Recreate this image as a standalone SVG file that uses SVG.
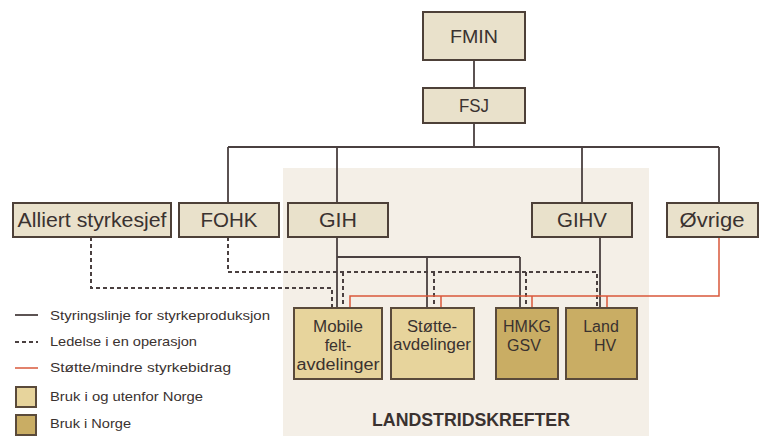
<svg xmlns="http://www.w3.org/2000/svg" width="766" height="436" viewBox="0 0 766 436">
<style>
.box{fill:#e9e1cb;stroke:#4d4038;stroke-width:2}
.lt{fill:#e7d49c;stroke:#5a4a3a;stroke-width:2}
.dk{fill:#c9ad64;stroke:#5a4a3a;stroke-width:2}
.t{font-family:"Liberation Sans",Arial,sans-serif;fill:#3a3230;text-anchor:middle}
.lg{font-family:"Liberation Sans",Arial,sans-serif;fill:#3a3230;font-size:13px}
.s{fill:none;stroke:#4a4040;stroke-width:1.8}
.d{fill:none;stroke:#4a4040;stroke-width:2;stroke-dasharray:4 3}
.r{fill:none;stroke:#d9583b;stroke-width:1.5}
</style>
<rect width="766" height="436" fill="#ffffff"/>
<rect x="283" y="168" width="366" height="268" fill="#f4efe7"/>
<g id="connectors">
<path class="s" d="M474 60V88M474 123V147M228 147H719M228 147V203M337 147V203M582 147V203M719 147V203M337 237V308M337 257H520M427 257V308M520 257V308M600 237V308"/>
<path class="d" d="M228 237V272H597V308M343 272V308M434 272V308M526 272V308M91 237V288H332V308"/>
<path class="r" d="M719 237V296H350V308M441 296V308M532 296V308M607 296V308"/>
</g>
<g id="FMIN"><rect class="box" x="423" y="12" width="102" height="48"/><text class="t" x="474" y="43" font-size="19" textLength="48" lengthAdjust="spacingAndGlyphs">FMIN</text></g>
<g id="FSJ"><rect class="box" x="423" y="88" width="102" height="35"/><text class="t" x="474" y="112" font-size="18" textLength="30" lengthAdjust="spacingAndGlyphs">FSJ</text></g>
<g id="Alliert"><rect class="box" x="13" y="203" width="158" height="34"/><text class="t" x="92" y="227" font-size="20" textLength="149" lengthAdjust="spacingAndGlyphs">Alliert styrkesjef</text></g>
<g id="FOHK"><rect class="box" x="179" y="203" width="100" height="34"/><text class="t" x="229" y="227" font-size="20" textLength="57" lengthAdjust="spacingAndGlyphs">FOHK</text></g>
<g id="GIH"><rect class="box" x="288" y="203" width="100" height="34"/><text class="t" x="338" y="227" font-size="20" textLength="38" lengthAdjust="spacingAndGlyphs">GIH</text></g>
<g id="GIHV"><rect class="box" x="532" y="203" width="100" height="34"/><text class="t" x="582" y="227" font-size="20" textLength="50" lengthAdjust="spacingAndGlyphs">GIHV</text></g>
<g id="Ovrige"><rect class="box" x="667" y="203" width="91" height="34"/><text class="t" x="712" y="227" font-size="20" textLength="65" lengthAdjust="spacingAndGlyphs">Øvrige</text></g>
<g id="Mobile"><rect class="lt" x="294" y="308" width="88" height="71"/><text class="t" font-size="16"><tspan x="338" y="332" textLength="50" lengthAdjust="spacingAndGlyphs">Mobile</tspan><tspan x="338" y="351">felt-</tspan><tspan x="338" y="370" textLength="83" lengthAdjust="spacingAndGlyphs">avdelinger</tspan></text></g>
<g id="Stotte"><rect class="lt" x="391" y="308" width="83" height="71"/><text class="t" font-size="16"><tspan x="432" y="332" textLength="50" lengthAdjust="spacingAndGlyphs">Støtte-</tspan><tspan x="432" y="350" textLength="78" lengthAdjust="spacingAndGlyphs">avdelinger</tspan></text></g>
<g id="HMKG"><rect class="dk" x="496" y="308" width="62" height="71"/><text class="t" font-size="16"><tspan x="527" y="332" textLength="48" lengthAdjust="spacingAndGlyphs">HMKG</tspan><tspan x="524" y="351">GSV</tspan></text></g>
<g id="LandHV"><rect class="dk" x="566" y="308" width="71" height="71"/><text class="t" font-size="16"><tspan x="601" y="332">Land</tspan><tspan x="605" y="351">HV</tspan></text></g>
<text x="471" y="426" font-family="Liberation Sans,Arial,sans-serif" font-weight="bold" font-size="18" fill="#3a3230" text-anchor="middle" textLength="198" lengthAdjust="spacingAndGlyphs">LANDSTRIDSKREFTER</text>
<g id="legend">
<line class="s" x1="15" y1="315" x2="38" y2="315"/>
<line class="d" x1="15" y1="342" x2="38" y2="342"/>
<line class="r" x1="15" y1="368" x2="38" y2="368"/>
<rect class="lt" x="16" y="387" width="20" height="20" stroke-width="1.5"/>
<rect class="dk" x="16" y="415" width="20" height="20" stroke-width="1.5" stroke="#c9ad64"/>
<text class="lg" x="50" y="320" textLength="220" lengthAdjust="spacingAndGlyphs">Styringslinje for styrkeproduksjon</text>
<text class="lg" x="50" y="346" textLength="147" lengthAdjust="spacingAndGlyphs">Ledelse i en operasjon</text>
<text class="lg" x="50" y="372" textLength="181" lengthAdjust="spacingAndGlyphs">Støtte/mindre styrkebidrag</text>
<text class="lg" x="50" y="401" textLength="153" lengthAdjust="spacingAndGlyphs">Bruk i og utenfor Norge</text>
<text class="lg" x="50" y="428" textLength="81" lengthAdjust="spacingAndGlyphs">Bruk i Norge</text>
</g>
</svg>
